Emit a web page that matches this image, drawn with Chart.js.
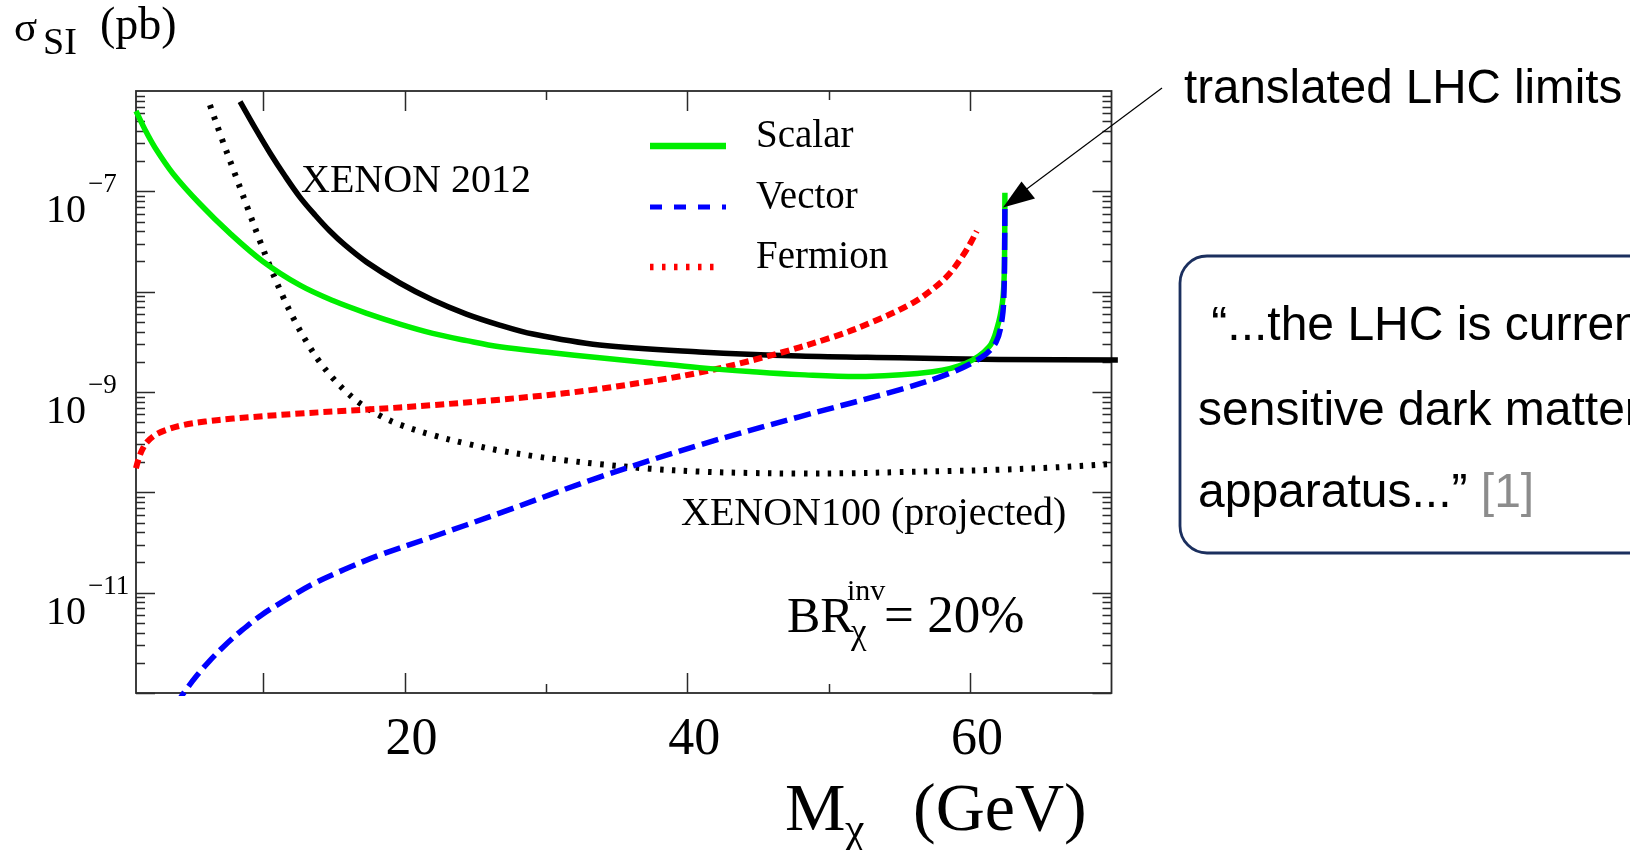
<!DOCTYPE html>
<html>
<head>
<meta charset="utf-8">
<script src="https://cdn.jsdelivr.net/npm/chart.js@4.4.0/dist/chart.umd.min.js"></script>
<style>
  html, body { margin: 0; padding: 0; background: #fff; overflow: hidden; }
  #wrap { position: relative; width: 1630px; height: 850px; }
</style>
</head>
<body>
<div id="wrap"><canvas id="c" width="1630" height="850"></canvas></div>
<script>
/* ===== sigma_SI vs M_chi ===== */

// Scalar (green, solid)
const scalarX = [1.0, 1.64, 2.35, 3.62, 5.53, 7.65, 9.98, 12.59, 14.92, 17.33, 19.66, 21.99, 24.39, 26.72, 30.26, 33.79, 37.32, 40.85, 44.39, 47.92, 52.63, 57.34, 59.70, 61.34, 61.93, 62.28, 62.40, 62.44, 62.46];
const scalarY = [6.32e-7, 4.11e-7, 2.72e-7, 1.50e-7, 7.48e-8, 3.81e-8, 2.00e-8, 1.16e-8, 8.15e-9, 6.08e-9, 4.75e-9, 3.84e-9, 3.25e-9, 2.82e-9, 2.47e-9, 2.20e-9, 1.96e-9, 1.75e-9, 1.60e-9, 1.49e-9, 1.43e-9, 1.59e-9, 1.93e-9, 2.82e-9, 4.47e-9, 7.69e-9, 1.31e-8, 2.60e-8, 9.68e-8];

// Vector (blue, dashed)
const vectorX = [3.76, 4.46, 5.32, 6.24, 7.30, 8.50, 9.91, 11.54, 13.51, 15.77, 18.24, 21.99, 26.72, 33.79, 40.85, 47.92, 54.98, 58.52, 60.85, 61.84, 62.27, 62.40, 62.44, 62.46];
const vectorY = [7.38e-13, 1.04e-12, 1.50e-12, 2.12e-12, 3.00e-12, 4.23e-12, 6.04e-12, 8.41e-12, 1.22e-11, 1.71e-11, 2.37e-11, 3.61e-11, 6.21e-11, 1.42e-10, 2.96e-10, 5.66e-10, 1.05e-9, 1.53e-9, 2.24e-9, 3.15e-9, 5.46e-9, 1.04e-8, 2.60e-8, 7.01e-8];

// Fermion (red, dotted)
const fermionX = [1.0, 1.18, 1.43, 1.78, 2.35, 3.20, 4.33, 5.88, 7.86, 12.59, 17.31, 21.99, 26.72, 31.44, 36.12, 40.85, 45.57, 50.27, 53.08, 55.92, 57.46, 58.52, 59.46, 60.07, 60.47];
const fermionY = [1.74e-10, 2.14e-10, 2.64e-10, 3.17e-10, 3.72e-10, 4.22e-10, 4.68e-10, 5.07e-10, 5.43e-10, 6.10e-10, 6.68e-10, 7.40e-10, 8.39e-10, 9.75e-10, 1.20e-9, 1.56e-9, 2.25e-9, 3.52e-9, 4.98e-9, 7.69e-9, 1.09e-8, 1.50e-8, 2.26e-8, 3.13e-8, 4.02e-8];

// XENON 2012 (black, solid)
const xenon2012X = [8.36, 9.42, 10.48, 11.54, 12.59, 13.66, 14.71, 15.77, 17.31, 19.66, 21.99, 24.37, 26.72, 29.08, 33.79, 40.85, 47.92, 54.98, 62.05, 70.45];
const xenon2012Y = [7.82e-7, 4.28e-7, 2.41e-7, 1.42e-7, 8.77e-8, 5.81e-8, 4.02e-8, 2.92e-8, 1.97e-8, 1.22e-8, 8.24e-9, 5.98e-9, 4.65e-9, 3.78e-9, 2.94e-9, 2.51e-9, 2.28e-9, 2.19e-9, 2.11e-9, 2.08e-9];

// XENON100 projected (black, dotted)
const xenon100X = [6.23, 7.08, 8.00, 8.92, 9.77, 10.62, 11.41, 12.24, 13.07, 14.0, 14.95, 15.89, 16.83, 18.24, 19.66, 21.99, 24.37, 26.72, 29.08, 31.44, 33.79, 37.32, 40.85, 44.39, 47.92, 51.45, 54.98, 58.52, 62.05, 65.58, 69.96];
const xenon100Y = [7.24e-7, 3.32e-7, 1.49e-7, 6.67e-8, 3.19e-8, 1.60e-8, 8.83e-9, 5.09e-9, 3.15e-9, 1.99e-9, 1.36e-9, 9.98e-10, 7.74e-10, 5.82e-10, 4.73e-10, 3.72e-10, 3.06e-10, 2.61e-10, 2.30e-10, 2.08e-10, 1.91e-10, 1.72e-10, 1.61e-10, 1.56e-10, 1.54e-10, 1.55e-10, 1.59e-10, 1.63e-10, 1.68e-10, 1.76e-10, 1.91e-10];

// Achsen
const xMin = 1, xMax = 70;
const yMinExp = -12, yMaxExp = -6;
const xTickLabels = [20, 40, 60];
const xTicksLong = [10, 20, 40, 60];
const xTicksShort = [30, 50];
const yLabelExps = [-7, -9, -11];

const legendNames = ['Scalar', 'Vector', 'Fermion'];

const SERIF = '"Liberation Serif", "Times New Roman", serif';
const SANS = '"Liberation Sans", Arial, sans-serif';

function pts(xs, ys) { return xs.map((x, i) => ({ x: x, y: ys[i] })); }

function txt(ctx, s, x, y, size, family, color, align) {
  ctx.font = size + 'px ' + family;
  ctx.fillStyle = color || '#000';
  ctx.textAlign = align || 'left';
  ctx.textBaseline = 'alphabetic';
  ctx.fillText(s, x, y);
}

/* ---------- Rahmen + Ticks (nach innen, alle vier Seiten) ---------- */
const framePlugin = {
  id: 'frame',
  beforeDatasetsDraw(chart) {
    const { ctx, chartArea: a } = chart;
    const xs = chart.scales.x, ys = chart.scales.y;
    ctx.save();
    ctx.strokeStyle = '#2a2a2a';
    ctx.lineWidth = 1.8;
    ctx.strokeRect(a.left, a.top, a.right - a.left, a.bottom - a.top);
    ctx.lineWidth = 1.5;
    ctx.beginPath();
    for (let d = yMinExp; d < yMaxExp; d++) {
      for (let m = 1; m < 10; m++) {
        const py = Math.round(ys.getPixelForValue(m * Math.pow(10, d))) + 0.5;
        const len = m === 1 ? 19 : 9;
        ctx.moveTo(a.left, py); ctx.lineTo(a.left + len, py);
        ctx.moveTo(a.right, py); ctx.lineTo(a.right - len, py);
      }
    }
    xTicksLong.concat(xTicksShort).forEach(v => {
      const px = Math.round(xs.getPixelForValue(v)) + 0.5;
      const len = xTicksLong.includes(v) ? 20 : 9;
      ctx.moveTo(px, a.bottom); ctx.lineTo(px, a.bottom - len);
      ctx.moveTo(px, a.top); ctx.lineTo(px, a.top + len);
    });
    ctx.stroke();
    ctx.restore();
  },
  afterDraw(chart) {
    const { ctx } = chart;
    const xs = chart.scales.x, ys = chart.scales.y;
    ctx.save();

    // y-Beschriftung 10^n
    yLabelExps.forEach(e => {
      const py = ys.getPixelForValue(Math.pow(10, e));
      txt(ctx, '10', 46, py + 31, 40, SERIF);
      txt(ctx, '\u2212' + Math.abs(e), 88, py + 1, 27, SERIF);
    });
    // x-Beschriftung
    xTickLabels.forEach(v => {
      txt(ctx, String(v), xs.getPixelForValue(v) + 7, 754, 52, SERIF, '#000', 'center');
    });

    // Achsentitel
    txt(ctx, '\u03c3', 14, 41, 43, SERIF);
    txt(ctx, 'SI', 43, 54, 38, SERIF);
    txt(ctx, '(pb)', 100, 39, 46, SERIF);
    txt(ctx, 'M', 785, 830, 68, SERIF);
    txt(ctx, '\u03c7', 845, 843, 44, SERIF);
    txt(ctx, '(GeV)', 913, 830, 68, SERIF);

    // Kurvenbeschriftungen
    txt(ctx, 'XENON 2012', 301, 192, 40, SERIF);
    txt(ctx, 'XENON100 (projected)', 681, 525, 40, SERIF);
    txt(ctx, 'BR', 787, 632, 50, SERIF);
    txt(ctx, 'inv', 847, 600, 30, SERIF);
    txt(ctx, '\u03c7', 851, 643, 35, SERIF);
    txt(ctx, '= 20%', 884, 632, 53, SERIF);

    // Legende
    const leg = [
      { y: 146, color: '#00ee00', dash: [], w: 6.5, x2: 726 },
      { y: 207, color: '#0000ff', dash: [12, 12], w: 5, x2: 726 },
      { y: 267, color: '#ff0000', dash: [3.5, 8.5], w: 6.5, x2: 720 },
    ];
    leg.forEach((l, i) => {
      ctx.beginPath();
      ctx.setLineDash(l.dash);
      ctx.lineCap = 'butt';
      ctx.strokeStyle = l.color;
      ctx.lineWidth = l.w;
      ctx.moveTo(650, l.y); ctx.lineTo(l.x2, l.y);
      ctx.stroke();
      txt(ctx, legendNames[i], 756, l.y + 1, 39, SERIF);
    });
    ctx.setLineDash([]);

    // Pfeil "translated LHC limits"
    ctx.beginPath();
    ctx.strokeStyle = '#000';
    ctx.lineWidth = 1.2;
    ctx.moveTo(1162, 88); ctx.lineTo(1020, 194);
    ctx.stroke();
    ctx.beginPath();
    ctx.fillStyle = '#000';
    ctx.moveTo(1003, 207.5); ctx.lineTo(1021.5, 181.5); ctx.lineTo(1035, 198.5);
    ctx.closePath();
    ctx.fill();
    txt(ctx, 'translated LHC limits', 1184, 103, 47.5, SANS);

    // Zitat-Box
    const bx = 1180, by = 256, bw = 600, bh = 297, r = 27;
    ctx.beginPath();
    ctx.moveTo(bx + r, by);
    ctx.lineTo(bx + bw, by);
    ctx.lineTo(bx + bw, by + bh);
    ctx.lineTo(bx + r, by + bh);
    ctx.arcTo(bx, by + bh, bx, by + bh - r, r);
    ctx.lineTo(bx, by + r);
    ctx.arcTo(bx, by, bx + r, by, r);
    ctx.strokeStyle = '#1b2f5e';
    ctx.lineWidth = 2.8;
    ctx.stroke();
    txt(ctx, ' \u201c...the LHC is currently the most', 1198, 340, 48, SANS);
    txt(ctx, 'sensitive dark matter detection', 1198, 425, 48, SANS);
    txt(ctx, 'apparatus...\u201d', 1198, 507, 48, SANS);
    ctx.font = '48px ' + SANS;
    const w3 = ctx.measureText('apparatus...\u201d ').width;
    txt(ctx, '[1]', 1198 + w3, 507, 48, SANS, '#8c8c8c');

    ctx.restore();
  },
};

function lineDs(label, xs, ys, color, width, dash, order, clip) {
  return {
    label: label,
    data: pts(xs, ys),
    borderColor: color,
    backgroundColor: color,
    borderWidth: width,
    borderDash: dash,
    borderCapStyle: 'butt',
    borderJoinStyle: 'round',
    pointRadius: 0,
    tension: 0.35,
    fill: false,
    order: order,
    clip: clip,
  };
}

new Chart(document.getElementById('c'), {
  type: 'line',
  data: {
    datasets: [
      lineDs('Vector', vectorX, vectorY, '#0000ff', 5.5, [17, 7], 0, 3),
      lineDs('Scalar', scalarX, scalarY, '#00ee00', 5.5, [], 1, 4),
      lineDs('Fermion', fermionX, fermionY, '#ff0000', 6, [9, 5], 2, 3),
      lineDs('XENON 2012', xenon2012X, xenon2012Y, '#000000', 5.5, [], 3, { left: 3, top: 3, right: 10, bottom: 3 }),
      lineDs('XENON100 (projected)', xenon100X, xenon100Y, '#000000', 6, [3.5, 8.5], 4, 3),
    ],
  },
  options: {
    responsive: false,
    animation: false,
    devicePixelRatio: 1,
    layout: { padding: { left: 136, top: 91, right: 518.5, bottom: 157 } },
    plugins: { legend: { display: false }, tooltip: { enabled: false } },
    scales: {
      x: { type: 'linear', min: xMin, max: xMax, display: false },
      y: { type: 'logarithmic', min: Math.pow(10, yMinExp), max: Math.pow(10, yMaxExp), display: false },
    },
  },
  plugins: [framePlugin],
});
</script>
</body>
</html>
